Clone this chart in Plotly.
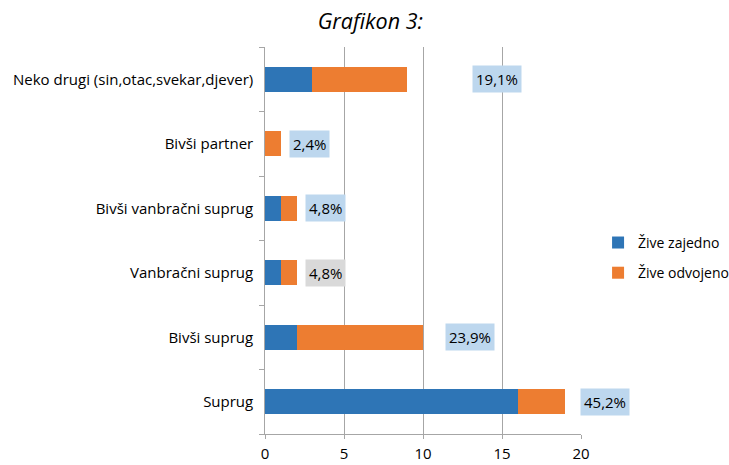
import plotly.graph_objects as go

categories = ["Suprug", "Bivši suprug", "Vanbračni suprug", "Bivši vanbračni suprug",
              "Bivši partner", "Neko drugi (sin,otac,svekar,djever)"]
zive_zajedno = [16, 2, 1, 1, 0, 3]
zive_odvojeno = [3, 8, 1, 1, 1, 6]
percent_labels = ["45,2%", "23,9%", "4,8%", "4,8%", "2,4%", "19,1%"]
label_x = [21.5, 13.0, 3.83, 3.83, 2.83, 14.67]
label_bg = ["#BDD7EE", "#BDD7EE", "#D9D9D9", "#BDD7EE", "#BDD7EE", "#BDD7EE"]
x_ticks = [0, 5, 10, 15, 20]
x_max = 20

FONT = "Open Sans"
FS = 15

fig = go.Figure()
fig.add_trace(go.Bar(y=categories, x=zive_zajedno, orientation="h", name="Žive zajedno",
                     marker=dict(color="#2E75B6", line=dict(width=0)), width=0.39,
                     legendgroup="a"))
fig.add_trace(go.Bar(y=categories, x=zive_odvojeno, orientation="h", name="Žive odvojeno",
                     marker=dict(color="#ED7D31", line=dict(width=0)), width=0.39,
                     legendgroup="b"))

for c, t, lx, bg in zip(categories, percent_labels, label_x, label_bg):
    fig.add_annotation(x=lx / x_max, y=c, xref="paper", yref="y", text=t, showarrow=False,
                       xanchor="center", yanchor="middle",
                       bgcolor=bg, borderpad=3, font=dict(family=FONT, size=FS, color="#000000"))

fig.update_layout(
    barmode="stack",
    width=729, height=465,
    margin=dict(l=265, r=148, t=47, b=31, autoexpand=False),
    paper_bgcolor="white", plot_bgcolor="white",
    title=dict(text="<i>Grafikon 3:</i>", x=0.508, xanchor="center", y=0.953, yanchor="middle",
               font=dict(family=FONT, size=21.5, color="#000000")),
    font=dict(family=FONT, size=FS, color="#000000"),
    legend=dict(x=1.054, xanchor="left", y=0.455, yanchor="middle", tracegroupgap=9,
                font=dict(family=FONT, size=14), itemwidth=30, bgcolor="rgba(0,0,0,0)"),
)
fig.update_xaxes(range=[0, x_max], tickvals=x_ticks, showgrid=True, gridcolor="#A6A6A6", gridwidth=1,
                 zeroline=False, showline=True, linecolor="#A6A6A6", linewidth=1,
                 ticks="outside", ticklen=4, tickcolor="#A6A6A6",
                 tickfont=dict(family=FONT, size=FS), ticklabelstandoff=2, fixedrange=True)
fig.update_yaxes(type="category", showgrid=False, showline=True, linecolor="#A6A6A6", linewidth=1,
                 ticks="outside", ticklen=5, tickcolor="#A6A6A6", tickson="boundaries",
                 ticksuffix="  ", tickfont=dict(family=FONT, size=FS), fixedrange=True)

fig.write_html("out.html", config={"displayModeBar": False},
               post_script="document.body.style.margin='0';document.body.style.padding='0';")
